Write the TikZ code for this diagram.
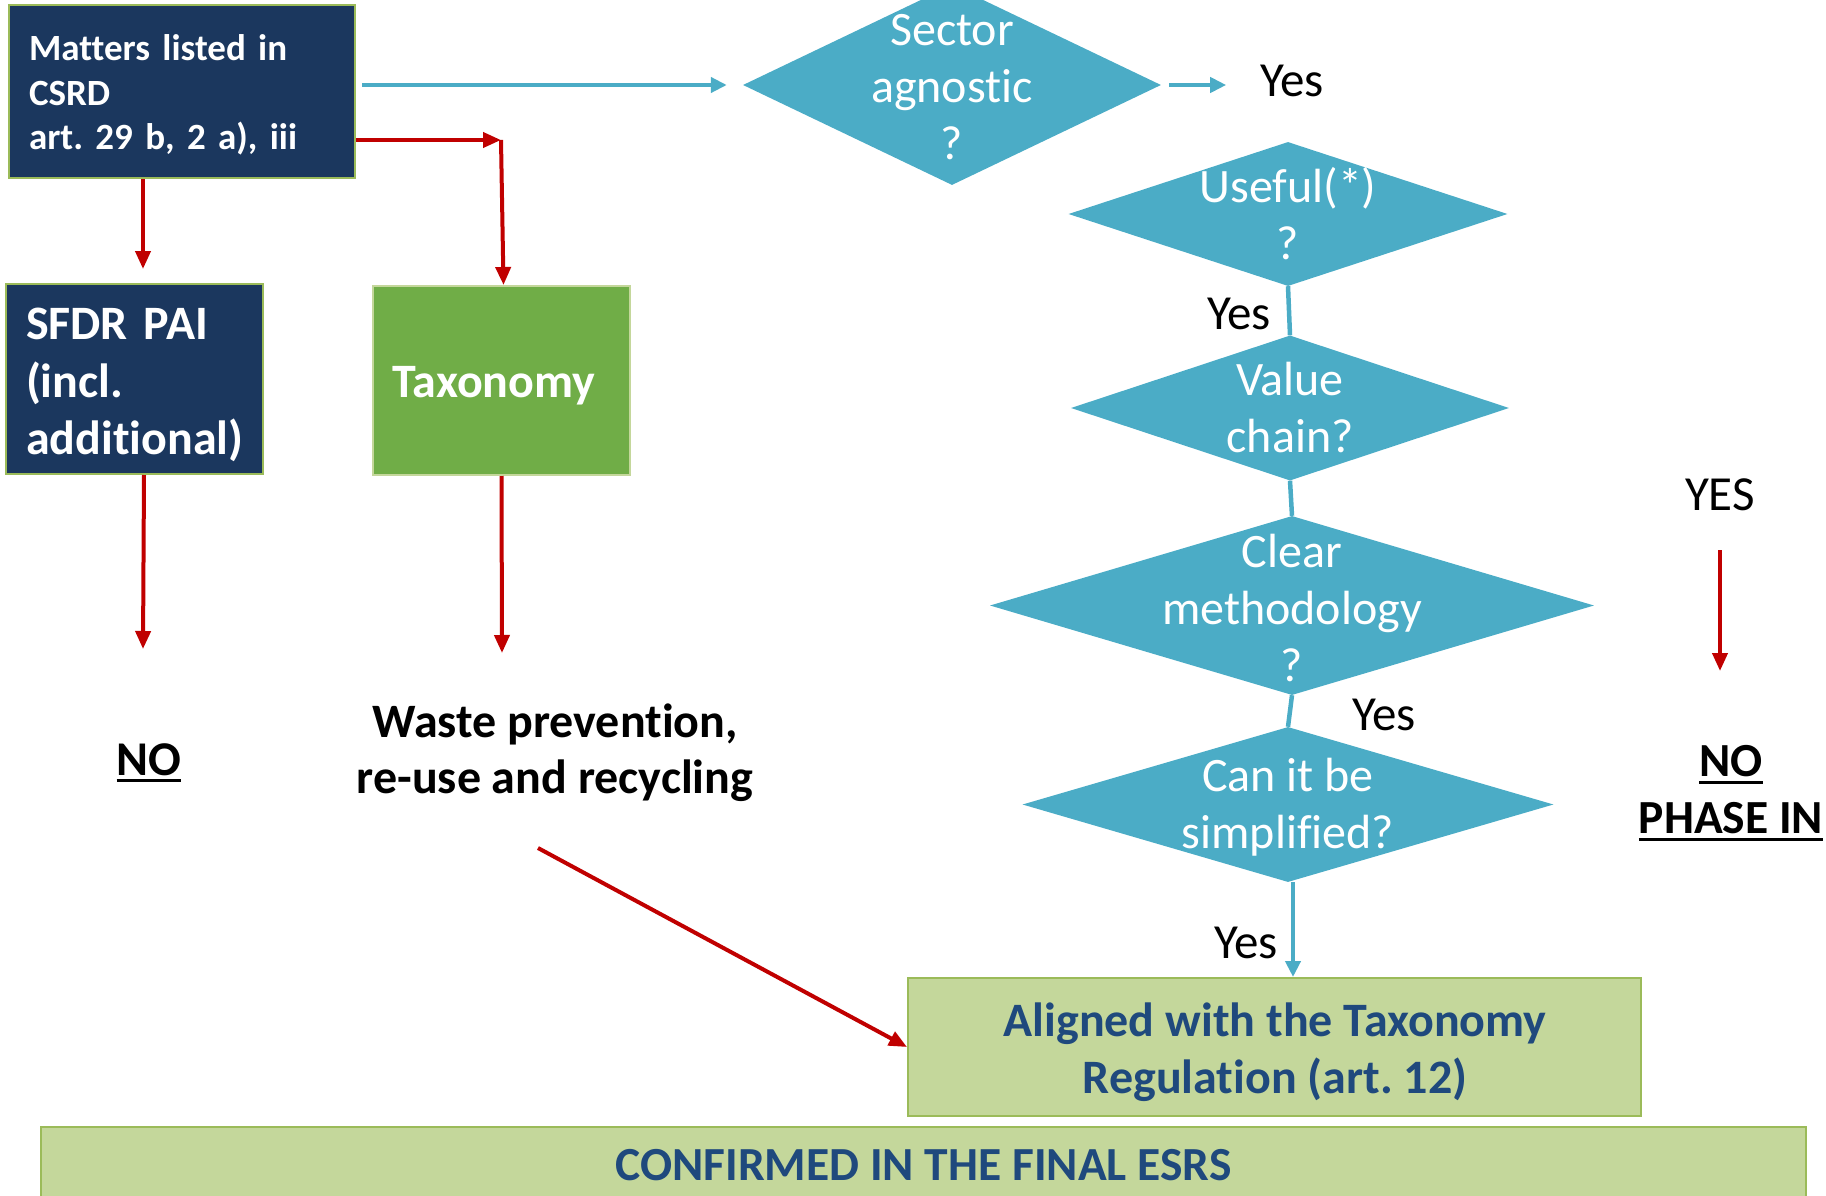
\documentclass[tikz,border=0pt]{standalone}
\usepackage{fontspec}
\setmainfont{Carlito}[Ligatures=NoCommon]
\usetikzlibrary{shapes.geometric,arrows.meta}
\frenchspacing

\definecolor{navyfill}{HTML}{1B375E}
\definecolor{bordergreen}{HTML}{9BBB59}
\definecolor{leafgreen}{HTML}{70AD47}
\definecolor{palegreen}{HTML}{C4D79B}
\definecolor{tealc}{HTML}{4BACC6}
\definecolor{redc}{HTML}{C00000}
\definecolor{textnavy}{HTML}{1F497D}

% bold underline with a fixed rule thickness
\newcommand\undertext[1]{\setbox0=\hbox{#1}\rlap{\rule[-7pt]{\wd0}{3pt}}\box0}

\begin{document}
\begin{tikzpicture}[x=1pt,y=-1pt,
  boxbase/.style={draw=bordergreen, line width=2pt, inner sep=0pt},
  navybox/.style={boxbase, fill=navyfill, text=white},
  decision/.style={shape=diamond, fill=tealc, draw=none, inner sep=0pt},
  dtext/.style={text=white, align=center, inner sep=0pt, font=\fontsize{48}{57}\selectfont},
  plain/.style={inner sep=0pt, font=\fontsize{49}{58}\selectfont},
  redarrow/.style={draw=redc, line width=4pt, -{Triangle[width=15pt,length=18pt]}},
  tealarrow/.style={draw=tealc, line width=4.5pt, -{Triangle[width=15pt,length=16pt]}},
  tealline/.style={draw=tealc, line width=4.5pt},
  ]
\useasboundingbox (0,0) rectangle (1826,1196);

% ---- left column boxes
\node[navybox, minimum width=346pt, minimum height=173pt] (matters) at (182,91.5) {};
\node[text=white, text width=306pt, align=left, inner sep=0pt,
      font=\bfseries\fontsize{37}{44.5}\selectfont] (matterstext) at (182,95)
      {Matters listed in\\CSRD\\art. 29 b, 2 a), iii};
\node[navybox, minimum width=257pt, minimum height=190pt] (sfdr) at (134.5,379) {};
\node[text=white, text width=217pt, align=left, inner sep=0pt,
      font=\bfseries\fontsize{48}{57.5}\selectfont] (sfdrtext) at (134.5,385)
      {SFDR PAI\\(incl.\\additional)};
\node[boxbase, draw=palegreen, fill=leafgreen, text=white, minimum width=257pt, minimum height=189pt,
      font=\bfseries\fontsize{48}{56}\selectfont] (taxo) at (501.5,380.5) {};
\node[text=white, inner sep=0pt, font=\bfseries\fontsize{48}{56}\selectfont] (taxotext)
      at (494,386) {Taxonomy};

% ---- outcomes on the left
\node[plain, font=\bfseries\fontsize{48.5}{56}\selectfont] (no) at (149,763) {\undertext{NO}};
\node[plain, align=center, font=\bfseries\fontsize{48}{56}\selectfont] (waste) at (555,753)
      {Waste prevention,\\re-use and recycling};

% ---- decision chain
\node[decision, minimum width=418pt, minimum height=200pt] (sector) at (952,85) {};
\node[dtext] at ([yshift=-2pt]sector.center) {Sector\\agnostic\\?};
\node[decision, minimum width=439pt, minimum height=144pt] (useful) at (1288,214) {};
\node[dtext] at (useful.center) {Useful(*)\\?};
\node[decision, minimum width=438pt, minimum height=145pt] (value) at (1290,408) {};
\node[dtext] at (value.center) {Value\\chain?};
\node[decision, minimum width=604pt, minimum height=179pt] (clear) at (1292,605.5) {};
\node[dtext] at ([yshift=-2pt]clear.center) {Clear\\methodology\\?};
\node[decision, minimum width=531pt, minimum height=155pt] (simp) at (1288,804.5) {};
\node[dtext] at ([yshift=-3pt]simp.center) {Can it be\\simplified?};

% ---- result boxes
\node[boxbase, fill=palegreen, minimum width=733pt, minimum height=138pt] (aligned) at (1274.5,1047) {};
\node[text=textnavy, align=center, inner sep=0pt, font=\bfseries\fontsize{48}{57}\selectfont]
      (alignedtext) at (1275,1052) {Aligned with the Taxonomy\\Regulation (art. 12)};
\node[boxbase, fill=palegreen, text=textnavy, minimum width=1765pt, minimum height=76pt,
      font=\bfseries\fontsize{47.5}{54}\selectfont] (confirmed) at (923.5,1165)
      {CONFIRMED IN THE FINAL ESRS};

% ---- labels
\node[plain] (yes1) at (1292,81) {Yes};
\node[plain] (yes2) at (1239,314) {Yes};
\node[plain] (yes3) at (1384,715) {Yes};
\node[plain] (yes4) at (1246,943) {Yes};
\node[plain] (yesbig) at (1720,495) {YES};
\node[plain, align=center, font=\bfseries\fontsize{47.5}{57}\selectfont] (nophase) at (1731,793)
      {\undertext{NO}\\\undertext{PHASE IN}};

% ---- free ends of connectors
\coordinate (corner) at (501,140);
\coordinate (noend) at (143,649);
\coordinate (wasteend) at (502,653);
\coordinate (diagstart) at (538,848);
\coordinate (yestop) at (1720,550);
\coordinate (yesend) at (1720,671);

% ---- red connectors
\draw[redarrow] ([xshift=-39pt]matters.south) -- ([xshift=8.5pt,yshift=14pt]sfdr.north);
\draw[redarrow] (matters.east |- corner) -- (corner);
\draw[redarrow] (corner) -- ([xshift=2pt]taxo.north);
\draw[redarrow] ([xshift=9.5pt]sfdr.south) -- (noend);
\draw[redarrow] (taxo.south) -- (wasteend);
\draw[redarrow] (diagstart) -- (aligned.west);
\draw[redarrow] (yestop) -- (yesend);

% ---- teal connectors
\draw[tealarrow] ([xshift=6pt]matters.east |- sector.west) -- ([xshift=-16pt]sector.west);
\draw[tealarrow] ([xshift=8pt]sector.east) -- ([xshift=65pt]sector.east);
\draw[tealline] (useful.south) -- (value.north);
\draw[tealline] (value.south) -- (clear.north);
\draw[tealline] (clear.south) -- (simp.north);
\draw[tealarrow] ([xshift=5pt]simp.south) -- ([xshift=5pt]simp.south |- aligned.north);
\end{tikzpicture}
\end{document}
